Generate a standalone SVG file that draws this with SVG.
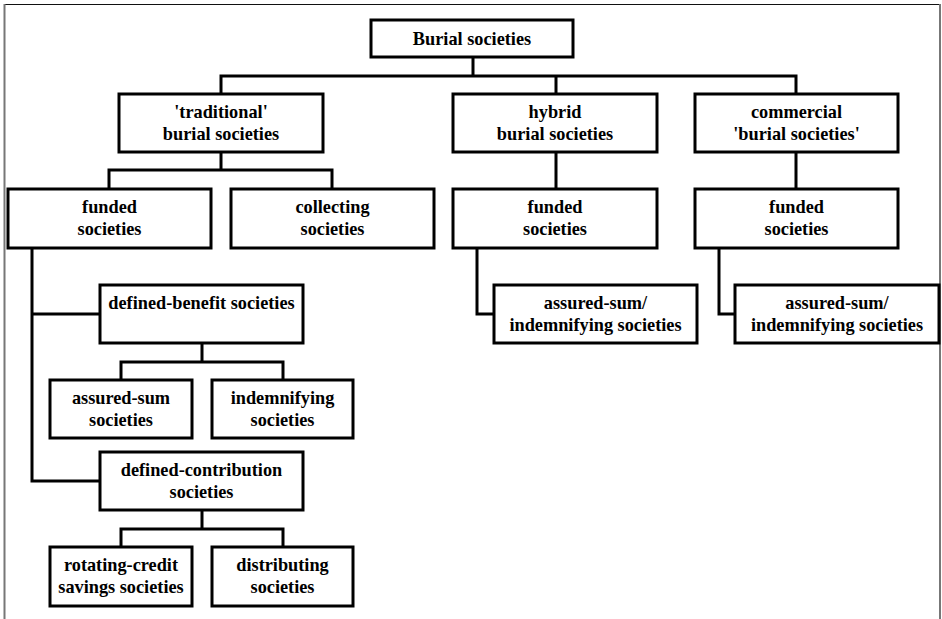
<svg xmlns="http://www.w3.org/2000/svg" width="942" height="619" viewBox="0 0 942 619">
<style>
.box{fill:#fff;stroke:#000;stroke-width:3}
.t{font-family:'Liberation Serif','Times New Roman',Times,serif;font-weight:700;font-size:18.3px;text-anchor:middle;fill:#000}
.c{fill:none;stroke:#000;stroke-width:3;stroke-linecap:square}
</style>
<rect x="0" y="0" width="942" height="619" fill="#fff"/>
<g id="frame">
<line x1="5" y1="4.5" x2="939" y2="4.5" stroke="#111" stroke-width="1.2"/>
<line x1="4.5" y1="4" x2="4.5" y2="619" stroke="#777" stroke-width="2"/>
<line x1="940" y1="4" x2="940" y2="619" stroke="#777" stroke-width="2"/>
</g>
<g id="connectors">
<path class="c" d="M473 57V76M221 76H796M221 76V94M556 76V94M796 76V94"/>
<path class="c" d="M221 152V170M109 170H332M109 170V189M332 170V189"/>
<path class="c" d="M556 152V189M796 152V189"/>
<path class="c" d="M477 248V314H494M719 248V314H735"/>
<path class="c" d="M32 248V481H100M32 314H100"/>
<path class="c" d="M202 343V362M121 362H283M121 362V380M283 362V380"/>
<path class="c" d="M202 510V529M121 529H283M121 529V547M283 529V547"/>
</g>
<g font-family="Liberation Serif, serif">
<g id="root"><rect class="box" x="371" y="20" width="202" height="37"/><text class="t" x="472" y="44.5">Burial societies</text></g>
<g id="traditional"><rect class="box" x="119" y="94" width="204" height="58"/><text class="t" x="221" y="117.5">'traditional'</text><text class="t" x="221" y="139.5">burial societies</text></g>
<g id="hybrid"><rect class="box" x="453" y="94" width="204" height="58"/><text class="t" x="555" y="117.5">hybrid</text><text class="t" x="555" y="139.5">burial societies</text></g>
<g id="commercial"><rect class="box" x="695" y="94" width="203" height="58"/><text class="t" x="796.5" y="117.5">commercial</text><text class="t" x="796.5" y="139.5">'burial societies'</text></g>
<g id="funded-trad"><rect class="box" x="8" y="189" width="203" height="59"/><text class="t" x="109.5" y="213">funded</text><text class="t" x="109.5" y="235">societies</text></g>
<g id="collecting"><rect class="box" x="231" y="189" width="203" height="59"/><text class="t" x="332.5" y="213">collecting</text><text class="t" x="332.5" y="235">societies</text></g>
<g id="funded-hybrid"><rect class="box" x="453" y="189" width="204" height="59"/><text class="t" x="555" y="213">funded</text><text class="t" x="555" y="235">societies</text></g>
<g id="funded-commercial"><rect class="box" x="695" y="189" width="203" height="59"/><text class="t" x="796.5" y="213">funded</text><text class="t" x="796.5" y="235">societies</text></g>
<g id="defined-benefit"><rect class="box" x="100" y="285" width="203" height="58"/><text class="t" x="201.5" y="308.5">defined-benefit societies</text></g>
<g id="assured-hybrid"><rect class="box" x="494" y="285" width="203" height="58"/><text class="t" x="595.5" y="308.5">assured-sum/</text><text class="t" x="595.5" y="330.5">indemnifying societies</text></g>
<g id="assured-commercial"><rect class="box" x="735" y="285" width="204" height="58"/><text class="t" x="837" y="308.5">assured-sum/</text><text class="t" x="837" y="330.5">indemnifying societies</text></g>
<g id="assured-sum"><rect class="box" x="50" y="380" width="142" height="58"/><text class="t" x="121" y="403.5">assured-sum</text><text class="t" x="121" y="425.5">societies</text></g>
<g id="indemnifying"><rect class="box" x="212" y="380" width="141" height="58"/><text class="t" x="282.5" y="403.5">indemnifying</text><text class="t" x="282.5" y="425.5">societies</text></g>
<g id="defined-contribution"><rect class="box" x="100" y="452" width="203" height="58"/><text class="t" x="201.5" y="475.5">defined-contribution</text><text class="t" x="201.5" y="497.5">societies</text></g>
<g id="rotating"><rect class="box" x="50" y="547" width="142" height="59"/><text class="t" x="121" y="570.5">rotating-credit</text><text class="t" x="121" y="592.5">savings societies</text></g>
<g id="distributing"><rect class="box" x="212" y="547" width="141" height="59"/><text class="t" x="282.5" y="570.5">distributing</text><text class="t" x="282.5" y="592.5">societies</text></g>
</g>
</svg>
